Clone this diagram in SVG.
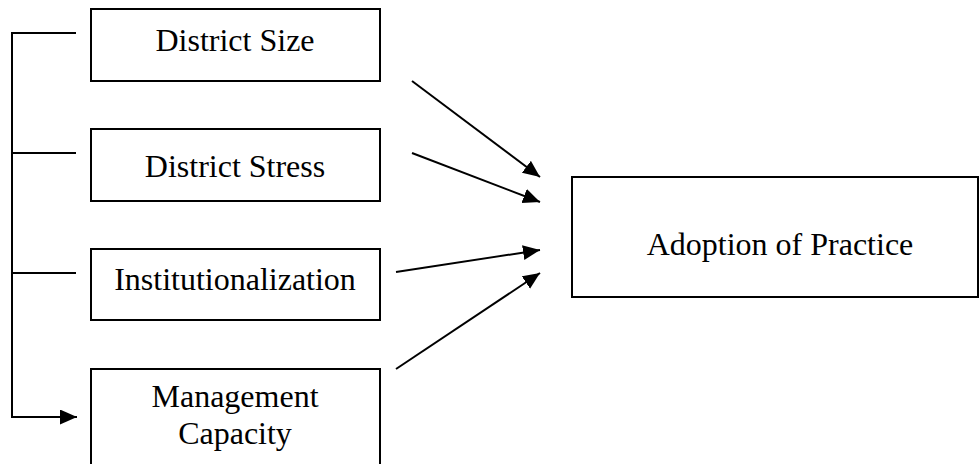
<svg xmlns="http://www.w3.org/2000/svg" width="979" height="464" viewBox="0 0 979 464">
<style>
.box{fill:#fff;stroke:#000;stroke-width:2}
.lbl{font-family:"Liberation Serif","Times New Roman",serif;font-size:32px;fill:#000;text-anchor:middle}
.ln{fill:none;stroke:#000;stroke-width:2}
</style>
<defs>
<marker id="ah" markerUnits="userSpaceOnUse" markerWidth="20" markerHeight="16" refX="17" refY="7.5" orient="auto">
<path d="M0,0 L17,7.5 L0,15 Z" fill="#000"/>
</marker>
</defs>
<rect width="979" height="464" fill="#fff"/>
<g id="n1"><rect class="box" x="91" y="9" width="289" height="72"/><text class="lbl" x="235" y="51">District Size</text></g>
<g id="n2"><rect class="box" x="91" y="129" width="289" height="72"/><text class="lbl" x="235" y="177">District Stress</text></g>
<g id="n3"><rect class="box" x="91" y="249" width="289" height="71"/><text class="lbl" x="235" y="290">Institutionalization</text></g>
<g id="n4"><rect class="box" x="91" y="369" width="289" height="100"/><text class="lbl" x="235" y="407">Management</text><text class="lbl" x="235" y="444">Capacity</text></g>
<g id="n5"><rect class="box" x="572" y="177" width="406" height="120"/><text class="lbl" x="780" y="255">Adoption of Practice</text></g>
<g id="connectors">
<path class="ln" d="M76,33 H12 V417 H77" marker-end="url(#ah)"/>
<path class="ln" d="M12,153 H76"/>
<path class="ln" d="M12,273 H76"/>
<line class="ln" x1="412" y1="81" x2="540" y2="177" marker-end="url(#ah)"/>
<line class="ln" x1="412" y1="153" x2="540" y2="202" marker-end="url(#ah)"/>
<line class="ln" x1="396" y1="272" x2="540" y2="250" marker-end="url(#ah)"/>
<line class="ln" x1="396" y1="369" x2="540" y2="273" marker-end="url(#ah)"/>
</g>
</svg>
